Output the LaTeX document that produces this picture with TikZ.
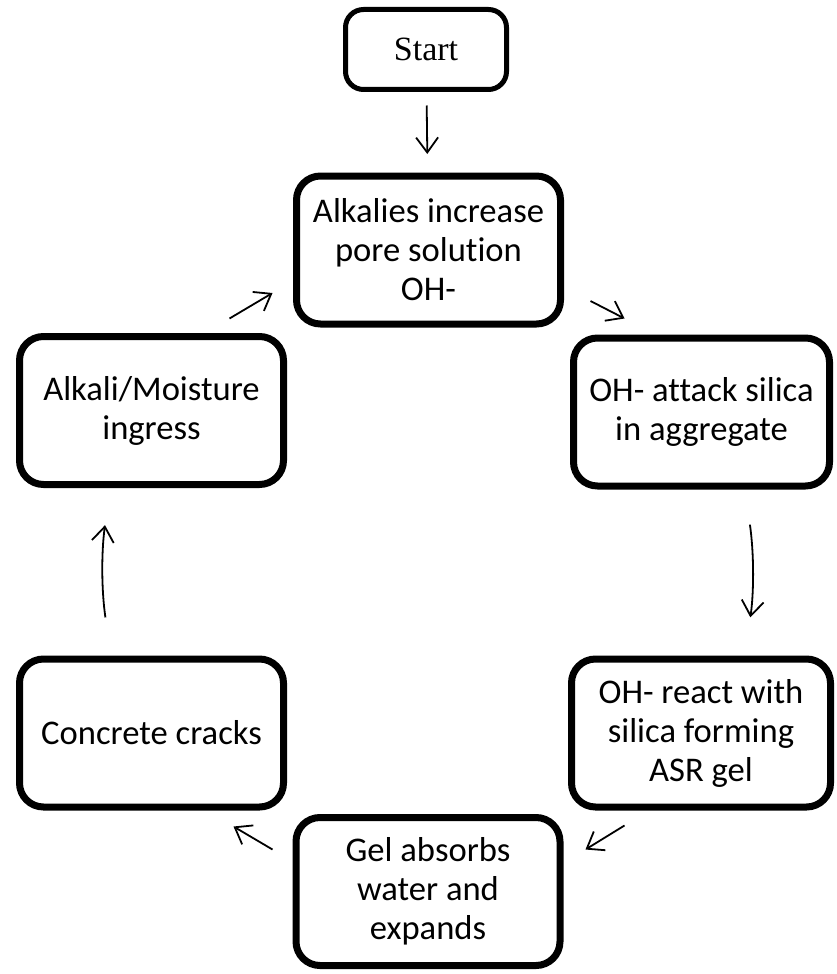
\documentclass[tikz,border=0pt]{standalone}
\usepackage{fontspec}
\setmainfont{Carlito}[Ligatures={NoCommon}]
\newfontfamily\startfont{Liberation Serif}
\usetikzlibrary{arrows.meta,shadows}

\begin{document}
\begin{tikzpicture}[x=0.5pt,y=-0.5pt,
		soft/.style={drop shadow={shadow xshift=0.8pt,shadow yshift=-0.9pt,opacity=0.3}},
		stage/.style={draw,line width=3.5pt,rounded corners=12pt,fill=white,soft,
			minimum width=132pt,minimum height=74pt,align=center,
			font=\fontsize{17.3}{19.5}\selectfont},
		startbox/.style={draw,line width=2.5pt,rounded corners=9pt,fill=white,soft,
			minimum width=80.5pt,minimum height=40pt,
			font=\startfont\fontsize{17}{20}\selectfont},
		link/.style={-{Straight Barb[length=7.5pt,width=11pt]},line width=0.9pt}]
		\useasboundingbox (0,0) rectangle (836,974);
		\node[startbox] (start) at (426,49.5) {Start};
		\node[stage] (alk) at (428.5,250) {Alkalies increase\\pore solution\\OH-};
		\node[stage,minimum width=128pt] (attack) at (701.5,412) {OH- attack silica\\in aggregate};
		\node[stage,minimum width=129.5pt] (react) at (701,733) {OH- react with\\silica forming\\ASR gel};
		\node[stage] (gel) at (428,891.5) {Gel absorbs\\water and\\expands};
		\node[stage] (cracks) at (151.5,733) {Concrete cracks};
		\node[stage] (ingress) at (151.5,410.5) {Alkali/Moisture\\ingress};
		% cycle arrows
		\draw[link,shorten <=6.75pt,shorten >=9.25pt] (start) -- (alk);
		\draw[link] ([xshift=13.25pt,yshift=13.25pt]alk.south east) -- ([xshift=27.25pt,yshift=8pt]attack.north west);
		\draw[link,shorten <=17.75pt,shorten >=19.25pt] ([xshift=21.75pt]attack.south) to[bend left=8] ([xshift=22pt]react.north);
		\draw[link] ([xshift=28.25pt,yshift=-7.5pt]react.south west) -- ([xshift=11pt,yshift=-17.75pt]gel.north east);
		\draw[link] ([xshift=-10pt,yshift=-17.75pt]gel.north west) -- ([xshift=-26.75pt,yshift=-8pt]cracks.south east);
		\draw[link,shorten <=19.25pt,shorten >=18.75pt] ([xshift=-20.25pt]cracks.north) to[bend left=8] ([xshift=-20.75pt]ingress.south);
		\draw[link] ([xshift=-28.75pt,yshift=7.25pt]ingress.north east) -- ([xshift=-10.25pt,yshift=17.25pt]alk.south west);
	\end{tikzpicture}
\end{document}
